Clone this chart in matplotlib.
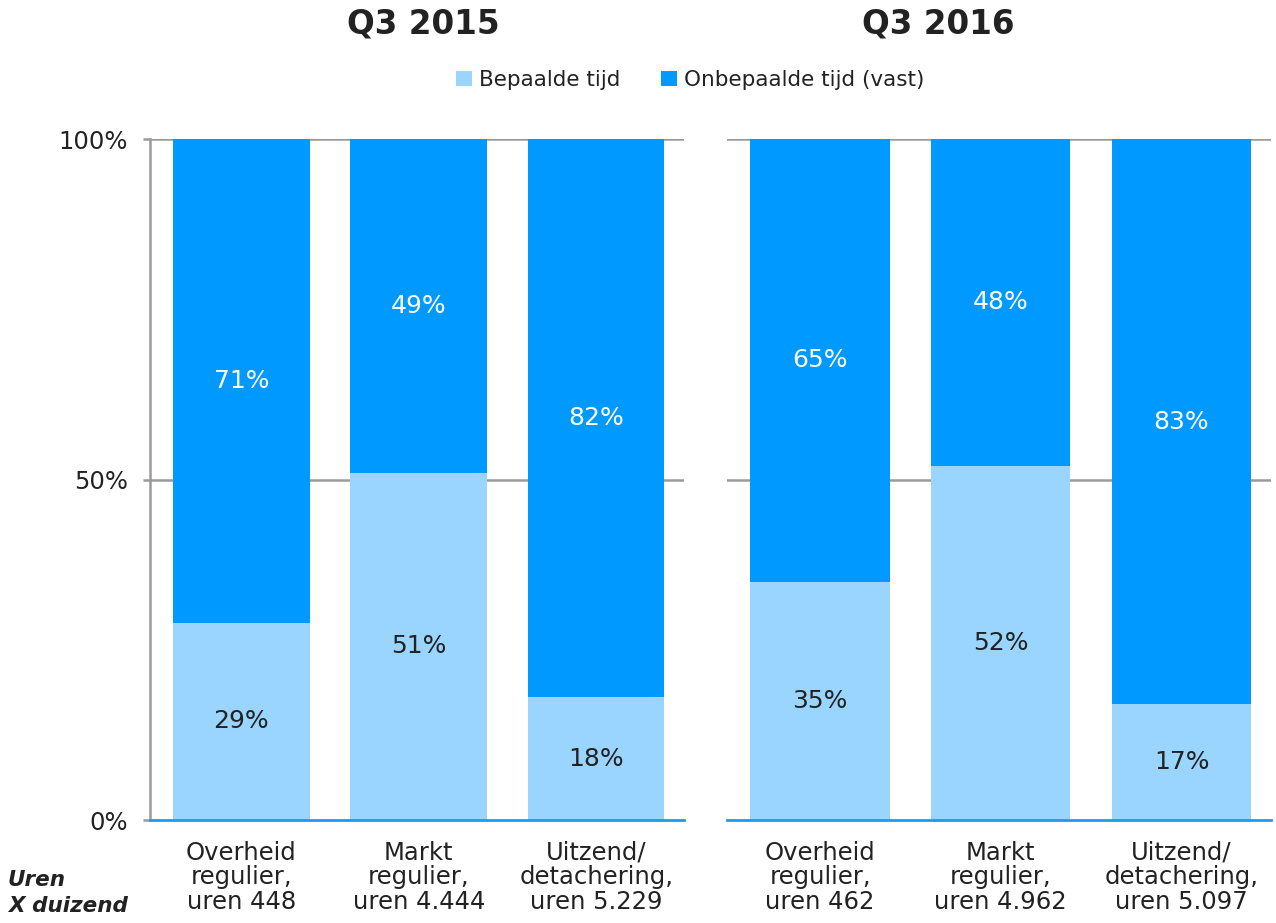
import matplotlib
matplotlib.use("Agg")
import matplotlib.pyplot as plt
from matplotlib.patches import Patch

# Data
periods = ["Q3 2015", "Q3 2016"]
categories_2015 = ["Overheid\nregulier,\nuren 448", "Markt\nregulier,\nuren 4.444", "Uitzend/\ndetachering,\nuren 5.229"]
categories_2016 = ["Overheid\nregulier,\nuren 462", "Markt\nregulier,\nuren 4.962", "Uitzend/\ndetachering,\nuren 5.097"]
bepaald_2015 = [29, 51, 18]
onbepaald_2015 = [71, 49, 82]
bepaald_2016 = [35, 52, 17]
onbepaald_2016 = [65, 48, 83]
series_names = ["Bepaalde tijd", "Onbepaalde tijd (vast)"]

LIGHT = "#99D5FF"
DARK = "#0099FF"
AXIS_BLUE = "#1E9BF0"
GRID = "#9A9A9A"
TXT = "#222222"

plt.rcParams["font.family"] = ["DejaVu Sans"]

fig = plt.figure(figsize=(12.76, 9.23), dpi=100)
ax1 = fig.add_axes([150 / 1276, 1 - 820 / 923, 534 / 1276, 681 / 923])
ax2 = fig.add_axes([727 / 1276, 1 - 820 / 923, 544 / 1276, 681 / 923])

panels = [
    (ax1, categories_2015, bepaald_2015, onbepaald_2015),
    (ax2, categories_2016, bepaald_2016, onbepaald_2016),
]

for ax, cats, low, high in panels:
    x = list(range(len(cats)))
    ax.bar(x, low, width=0.77, color=LIGHT, zorder=2)
    ax.bar(x, high, width=0.77, bottom=low, color=DARK, zorder=2)
    for xi, lo, hi in zip(x, low, high):
        ax.text(xi, lo / 2, f"{lo}%", ha="center", va="center", fontsize=18, color=TXT, zorder=3)
        ax.text(xi, lo + hi / 2, f"{hi}%", ha="center", va="center", fontsize=18, color="white", zorder=3)
    ax.set_xlim(-0.515, 2.495)
    ax.set_ylim(0, 100)
    ax.set_xticks(x)
    ax.set_xticklabels(cats, fontsize=17.5, color=TXT, linespacing=1.03)
    ax.tick_params(axis="x", length=0, pad=15)
    for y in (50, 100):
        ax.axhline(y, color=GRID, lw=1.8, zorder=1)
    for s in ("top", "right", "left"):
        ax.spines[s].set_visible(False)
    ax.spines["bottom"].set_color(AXIS_BLUE)
    ax.spines["bottom"].set_linewidth(2)
    ax.spines["bottom"].set_zorder(4)

ax1.spines["left"].set_visible(True)
ax1.spines["left"].set_color(GRID)
ax1.spines["left"].set_linewidth(1.8)
ax1.set_yticks([0, 50, 100])
ax1.set_yticklabels(["0%", "50%", "100%"], fontsize=17.5, color=TXT)
ax1.tick_params(axis="y", length=5, width=1.8, color=GRID, pad=11)
ax2.set_yticks([])

fig.text(423 / 1276, 1 - 24 / 923, periods[0], ha="center", va="center", fontsize=23.5, fontweight="bold", color=TXT)
fig.text(938 / 1276, 1 - 24 / 923, periods[1], ha="center", va="center", fontsize=23.5, fontweight="bold", color=TXT)

handles = [Patch(facecolor=LIGHT, edgecolor="none"), Patch(facecolor=DARK, edgecolor="none")]
fig.legend(handles, series_names, loc="center", bbox_to_anchor=(690 / 1276, 1 - 80 / 923),
           ncol=2, frameon=False, fontsize=15.5, handlelength=0.75, handleheight=0.75,
           handletextpad=0.3, columnspacing=1.9, labelcolor=TXT)

fig.text(8 / 1276, 1 - 880 / 923, "Uren", ha="left", va="center", fontsize=15.5,
         fontweight="bold", fontstyle="italic", color=TXT)
fig.text(8 / 1276, 1 - 906 / 923, "X duizend", ha="left", va="center", fontsize=15.5,
         fontweight="bold", fontstyle="italic", color=TXT)

fig.savefig("out.png", dpi=100)
